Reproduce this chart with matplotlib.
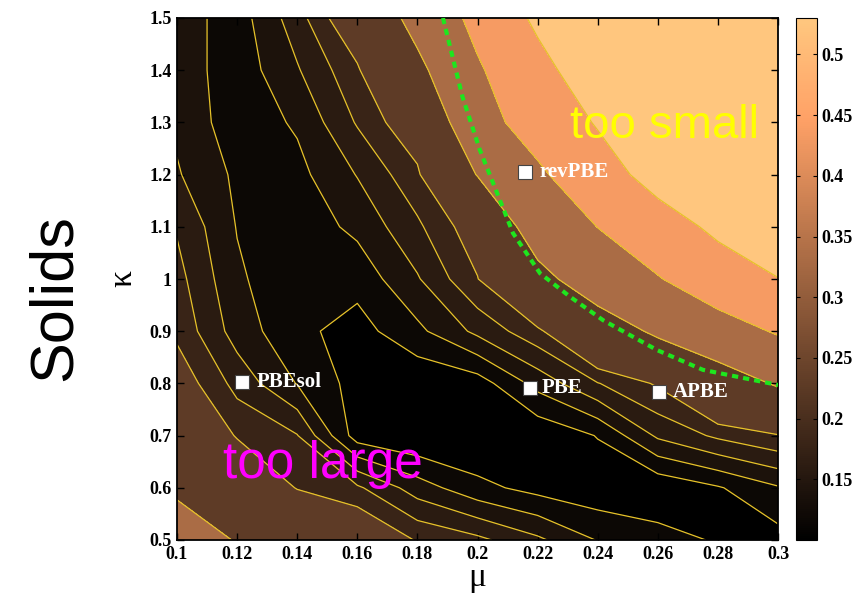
import numpy as np
import matplotlib
matplotlib.use("Agg")
import matplotlib.pyplot as plt
from matplotlib.colors import Normalize
from matplotlib.ticker import FormatStrFormatter

# -- data --
mu = [0.10, 0.12, 0.14, 0.16, 0.18, 0.20, 0.22, 0.24, 0.26, 0.28, 0.30]
kappa = [0.5, 0.6, 0.7, 0.8, 0.9, 1.0, 1.1, 1.2, 1.3, 1.4, 1.5]

# error surface, one row per kappa (0.5 at the bottom)
err = [
    [0.330, 0.297, 0.264, 0.229, 0.198, 0.185, 0.164, 0.139, 0.128, 0.118, 0.112],
    [0.291, 0.245, 0.198, 0.1835, 0.150, 0.126, 0.113, 0.106, 0.104, 0.118, 0.138],
    [0.253, 0.197, 0.181, 0.110, 0.101, 0.100, 0.104, 0.121, 0.1635, 0.184, 0.198],
    [0.215, 0.173, 0.139, 0.112, 0.104, 0.110, 0.147, 0.179, 0.203, 0.257, 0.308],
    [0.195, 0.151, 0.125, 0.112, 0.135, 0.165, 0.194, 0.253, 0.314, 0.361, 0.408],
    [0.187, 0.1435, 0.124, 0.127, 0.158, 0.199, 0.274, 0.350, 0.395, 0.454, 0.498],
    [0.178, 0.139, 0.128, 0.145, 0.176, 0.215, 0.345, 0.401, 0.459, 0.518, 0.570],
    [0.162, 0.136, 0.134, 0.161, 0.195, 0.303, 0.386, 0.460, 0.534, 0.590, 0.630],
    [0.156, 0.128, 0.1427, 0.182, 0.220, 0.368, 0.437, 0.507, 0.560, 0.610, 0.645],
    [0.152, 0.128, 0.158, 0.196, 0.280, 0.390, 0.473, 0.553, 0.610, 0.650, 0.680],
    [0.150, 0.130, 0.171, 0.226, 0.328, 0.424, 0.516, 0.580, 0.630, 0.670, 0.700],
]

levels = [0.12, 0.14, 0.16, 0.18, 0.2, 0.3, 0.4, 0.5]
# colour value used for each filled band (lowest band first)
band_shades = [0.100, 0.118, 0.140, 0.158, 0.178, 0.228, 0.332, 0.435, 0.528]

# green dashed curve
zero_mu = [0.1885, 0.195, 0.2008, 0.2065, 0.2118, 0.2208, 0.2308, 0.2418, 0.2597, 0.275, 0.3]
zero_kappa = [1.5, 1.349, 1.247, 1.165, 1.088, 1.011, 0.966, 0.921, 0.864, 0.826, 0.797]

func_names = ["PBEsol", "PBE", "revPBE", "APBE"]
func_mu = [0.1215, 0.2175, 0.2158, 0.2605]
func_kappa = [0.803, 0.791, 1.205, 0.784]

xticks = [0.1, 0.12, 0.14, 0.16, 0.18, 0.2, 0.22, 0.24, 0.26, 0.28, 0.3]
yticks = [0.5, 0.6, 0.7, 0.8, 0.9, 1.0, 1.1, 1.2, 1.3, 1.4, 1.5]
cbar_ticks = [0.15, 0.2, 0.25, 0.3, 0.35, 0.4, 0.45, 0.5]

# -- plot --
Z = np.array(err)
M, K = np.meshgrid(mu, kappa)
norm = Normalize(0.1, 0.53)
cmap = plt.get_cmap("copper")

W, H = 858, 595
fig = plt.figure(figsize=(W / 100, H / 100), dpi=100)
ax = fig.add_axes([177 / W, 55 / H, 601 / W, 522 / H])
cax = fig.add_axes([796 / W, 55 / H, 21 / W, 522 / H])

fill_colors = [cmap(norm(s)) for s in band_shades]
ax.contourf(M, K, Z, levels=[0.09] + levels + [0.8], colors=fill_colors)
ax.contour(M, K, Z, levels=levels, colors="#e6c229", linewidths=0.9)

ax.plot(zero_mu, zero_kappa, color="#1ee61e", lw=3, ls=(0, (1.5, 1.2)), zorder=4)

ax.plot(func_mu, func_kappa, "s", ms=10.5, mfc="white", mec="#444444", mew=0.8,
        ls="none", zorder=5)
offsets = [10.5, 8, 10.5, 9.5]
for name, x, y, off in zip(func_names, func_mu, func_kappa, offsets):
    ax.annotate(name, (x, y), xytext=(off, 0), textcoords="offset points",
                ha="left", va="center", color="white", fontsize=15,
                fontweight="bold", family="Liberation Serif", zorder=6)

ax.text(0.2308, 1.270, "too small", color="#ffff00", fontsize=34,
        family="Liberation Sans", ha="left", va="baseline")
ax.text(0.1153, 0.619, "too large", color="#ff00ff", fontsize=37,
        family="Liberation Sans", ha="left", va="baseline")

ax.set_xlim(0.1, 0.3)
ax.set_ylim(0.5, 1.5)
ax.set_xticks(xticks)
ax.set_yticks(yticks)
ax.xaxis.set_major_formatter(FormatStrFormatter("%g"))
ax.yaxis.set_major_formatter(FormatStrFormatter("%g"))
ax.tick_params(direction="in", top=True, right=True, length=5, width=1, pad=4)
for lab in ax.get_xticklabels() + ax.get_yticklabels():
    lab.set_family("Liberation Serif")
    lab.set_fontweight("bold")
    lab.set_fontsize(13)
for sp in ax.spines.values():
    sp.set_linewidth(1.3)

ax.set_xlabel("μ", fontsize=24, family="Liberation Serif", labelpad=0)
ax.set_ylabel("κ", fontsize=24, family="Liberation Serif", labelpad=8)

sm = plt.cm.ScalarMappable(norm=norm, cmap=cmap)
cb = fig.colorbar(sm, cax=cax, ticks=cbar_ticks)
cb.ax.yaxis.set_major_formatter(FormatStrFormatter("%g"))
cb.ax.tick_params(direction="in", left=True, right=True, length=3, width=0.8)
for lab in cb.ax.get_yticklabels():
    lab.set_family("Liberation Serif")
    lab.set_fontweight("bold")
    lab.set_fontsize(13)
cb.outline.set_linewidth(0.8)

fig.text(55 / W, 0.5, "Solids", rotation=90, fontsize=44, family="Liberation Sans",
         ha="center", va="center")

fig.savefig("out.png", dpi=100)
